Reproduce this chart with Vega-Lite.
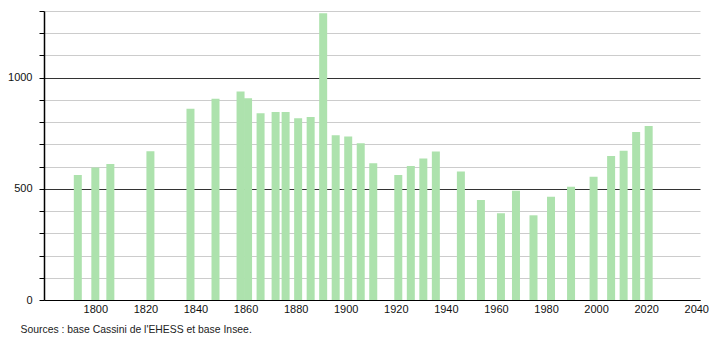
{
  "$schema": "https://vega.github.io/schema/vega-lite/v6.json",
  "autosize": {"type": "none"},
  "width": 656,
  "height": 289,
  "padding": {"left": 44, "top": 11, "right": 10, "bottom": 40},
  "background": "white",
  "config": {
    "view": {"stroke": null},
    "font": "Liberation Sans",
    "axis": {"labelFont": "Liberation Sans", "titleFont": "Liberation Sans", "labelFontSize": 11, "labelColor": "#111"}
  },
  "data": {
    "values": [
      {"annee": 1793, "population": 562},
      {"annee": 1800, "population": 596},
      {"annee": 1806, "population": 612},
      {"annee": 1822, "population": 669},
      {"annee": 1838, "population": 860},
      {"annee": 1848, "population": 905},
      {"annee": 1858, "population": 938},
      {"annee": 1861, "population": 908},
      {"annee": 1866, "population": 840},
      {"annee": 1872, "population": 846},
      {"annee": 1876, "population": 846},
      {"annee": 1881, "population": 818},
      {"annee": 1886, "population": 823},
      {"annee": 1891, "population": 1290},
      {"annee": 1896, "population": 741},
      {"annee": 1901, "population": 735},
      {"annee": 1906, "population": 705},
      {"annee": 1911, "population": 615},
      {"annee": 1921, "population": 562},
      {"annee": 1926, "population": 603},
      {"annee": 1931, "population": 637},
      {"annee": 1936, "population": 668},
      {"annee": 1946, "population": 578},
      {"annee": 1954, "population": 450},
      {"annee": 1962, "population": 390},
      {"annee": 1968, "population": 491},
      {"annee": 1975, "population": 381},
      {"annee": 1982, "population": 464},
      {"annee": 1990, "population": 509},
      {"annee": 1999, "population": 554},
      {"annee": 2006, "population": 648},
      {"annee": 2011, "population": 671},
      {"annee": 2016, "population": 756},
      {"annee": 2021, "population": 783}
    ]
  },
  "mark": {"type": "bar", "size": 8, "color": "#ade2ad"},
  "encoding": {
    "x": {
      "field": "annee",
      "type": "quantitative",
      "scale": {"domain": [1779.5, 2041.5], "nice": false, "zero": false, "padding": 0},
      "axis": {
        "values": [1800, 1820, 1840, 1860, 1880, 1900, 1920, 1940, 1960, 1980, 2000, 2020, 2040],
        "format": "d",
        "grid": false,
        "ticks": false,
        "labelPadding": 3,
        "domainColor": "#000",
        "domainWidth": 1.2,
        "labelFlush": false,
        "title": "Sources : base Cassini de l'EHESS et base Insee.",
        "titleAnchor": "start",
        "titleAlign": "left",
        "titleX": -24,
        "titleY": 29,
        "titleBaseline": "middle",
        "titleFontSize": 10.4,
        "titleFontWeight": "normal",
        "titleColor": "#222"
      }
    },
    "y": {
      "field": "population",
      "type": "quantitative",
      "scale": {"domain": [0, 1300], "nice": false},
      "axis": {
        "values": [0, 100, 200, 300, 400, 500, 600, 700, 800, 900, 1000, 1100, 1200, 1300],
        "format": "d",
        "labelExpr": "datum.value % 500 === 0 ? datum.label : ''",
        "grid": true,
        "gridColor": {"condition": {"test": "datum.value % 500 === 0", "value": "#333333"}, "value": "#cccccc"},
        "gridWidth": 1,
        "tickColor": "#000",
        "tickSize": 5,
        "labelPadding": 7,
        "domainColor": "#000",
        "domainWidth": 1.5,
        "title": null
      }
    }
  }
}
